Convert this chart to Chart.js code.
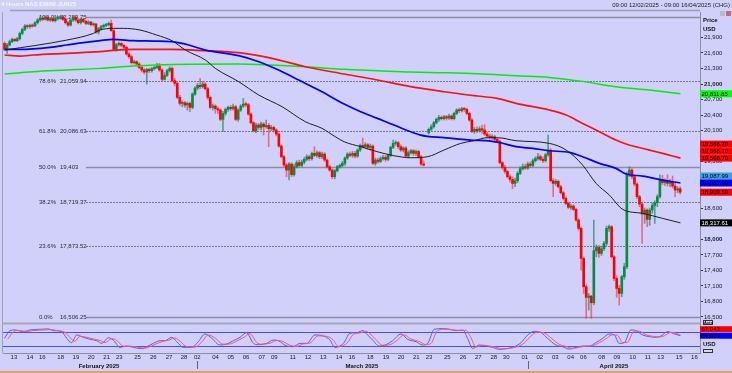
<!DOCTYPE html>
<html><head><meta charset="utf-8">
<script src="https://cdn.jsdelivr.net/npm/chart.js@4.4.1/dist/chart.umd.min.js"></script>
<style>html,body{margin:0;padding:0;background:#d0d0fa;overflow:hidden}</style>
</head><body>
<canvas id="c" width="732" height="373" style="width:732px;height:373px;display:block"></canvas>
<script>
// ---------- DATA (4-hour bars, index 0..266; 166 = weekend gap) ----------
const opens = [21785,21669,21753,21817,21862,21837,21875,21978,22055,22120,
22107,22133,22120,22184,22236,22274,22249,22287,22236,22262,
22223,22262,22274,22300,22249,22184,22139,22236,22287,22236,
22184,22249,22210,22171,22197,22146,22159,22004,22068,22107,
22133,22146,22171,22030,21669,21759,21785,21746,21708,21579,
21527,21412,21431,21386,21321,21270,21231,21283,21257,21296,
21321,21347,21270,21090,21167,21257,21302,21064,21012,20742,
20626,20639,20594,20626,20549,20806,20922,20974,20948,20999,
20909,20742,20549,20574,20523,20497,20317,20433,20510,20549,
20523,20561,20317,20497,20574,20613,20600,20420,20252,20098,
20207,20162,20227,20175,20201,20136,20162,20111,20033,19801,
19595,19434,19338,19454,19248,19402,19480,19428,19492,19544,
19595,19557,19660,19621,19673,19595,19647,19531,19402,19338,
19209,19325,19402,19428,19467,19570,19647,19621,19660,19608,
19724,19814,19789,19827,19776,19801,19467,19531,19505,19557,
19583,19544,19621,19776,19853,19866,19789,19724,19763,19608,
19673,19711,19660,19698,19595,19454,null,20059,20124,20175,
20252,20317,20355,20330,20368,20342,20381,20330,20433,20497,
20484,20523,20510,20433,20304,20085,20124,20098,20136,20111,
20033,19995,19969,19982,19930,19892,19480,19389,19312,19209,
19157,19080,19132,19273,19364,19402,19377,19454,19428,19518,
19557,19595,19544,19518,19634,19724,19132,19080,19119,19016,
18900,18791,18694,18617,18642,18578,18372,18211,17631,17084,
16878,16904,16775,17779,17844,17728,17818,17921,18211,18243,
17663,17245,17052,16955,17277,17470,19261,19338,19209,19067,
18823,18681,18488,18565,18385,18565,18655,18707,18823,19157,
19093,19119,19080,19106,19029,18951,18977];
const highs = [21817,21785,21849,21888,21882,21901,22004,22081,22146,22146,
22159,22159,22204,22262,22300,22313,22313,22313,22287,22287,
22287,22300,22320,22320,22274,22210,22249,22313,22313,22262,
22274,22274,22236,22223,22210,22184,22171,22094,22133,22159,
22171,22197,22236,22055,21785,21811,21798,21772,21734,21605,
21553,21463,21450,21412,21347,21296,21302,21308,21321,21347,
21399,21399,21296,21218,21283,21334,21334,21109,21038,20780,
20677,20664,20652,20652,20832,20948,21012,21109,21051,21025,
20935,20768,20613,20600,20561,20523,20471,20536,20574,20587,
20613,20587,20523,20600,20722,20652,20626,20445,20278,20239,
20239,20265,20252,20304,20239,20201,20188,20136,20059,19827,
19621,19467,19480,19480,19454,19518,19531,19531,19583,19634,
19621,19686,19789,19711,19698,19686,19673,19557,19428,19364,
19351,19428,19454,19505,19595,19673,19686,19698,19698,19750,
19840,19956,19866,19853,19840,19827,19570,19570,19595,19621,
19621,19647,19801,19917,19905,19892,19827,19789,19789,19711,
19737,19737,19724,19724,19621,19518,null,20149,20214,20278,
20342,20394,20381,20394,20394,20420,20407,20458,20523,20536,
20549,20549,20536,20458,20330,20162,20175,20175,20201,20214,
20072,20033,20020,20008,19956,19917,19505,19428,19338,19248,
19209,19183,19312,19402,19454,19454,19492,19492,19557,19595,
19660,19634,19595,19660,20014,19750,19170,19157,19145,19042,
18926,18823,18720,18681,18668,18604,18398,18243,17663,17122,
16955,16916,18372,17895,17882,17869,17960,18256,18275,18269,
17689,17290,17110,17303,17535,19299,19402,19364,19235,19093,
18848,18707,18604,18591,18604,18707,18745,18861,19248,19235,
19170,19248,19157,19222,19080,19016,19016];
const lows = [21643,21592,21734,21798,21817,21817,21849,21952,22030,22075,
22081,22094,22107,22159,22210,22223,22236,22216,22210,22197,
22197,22236,22249,22223,22159,22107,22120,22210,22204,22159,
22159,22184,22146,22146,22120,22120,21978,21965,22043,22081,
22107,22120,22017,21643,21630,21734,21721,21682,21553,21495,
21386,21386,21360,21296,21231,21193,20999,21218,21231,21270,
21296,21244,21064,21077,21141,21231,21038,20961,20716,20587,
20561,20549,20497,20465,20523,20780,20883,20909,20922,20883,
20703,20523,20497,20433,20433,20291,20078,20394,20471,20484,
20497,20291,20278,20471,20549,20561,20394,20227,20072,20059,
20124,20111,20014,20149,19789,20098,20072,19995,19776,19570,
19402,19209,19145,19209,19222,19377,19402,19402,19454,19518,
19518,19531,19595,19583,19557,19557,19505,19377,19312,19170,
19170,19299,19377,19402,19428,19544,19595,19583,19570,19583,
19698,19763,19763,19737,19724,19441,19428,19467,19480,19531,
19505,19518,19595,19750,19814,19750,19698,19686,19583,19570,
19647,19621,19621,19570,19428,19415,null,20033,20098,20149,
20227,20278,20304,20304,20304,20317,20304,20304,20407,20445,
20458,20471,20407,20278,20059,20046,20059,20072,20046,20008,
19956,19930,19930,19905,19866,19454,19351,19273,19183,19106,
18977,19016,19093,19248,19338,19351,19351,19389,19402,19492,
19531,19518,19480,19492,19608,19106,18823,19042,18990,18874,
18758,18668,18591,18578,18552,18346,18179,17406,16955,16472,
16633,16472,16736,17663,17651,17689,17779,17882,18153,17638,
17200,16878,16730,16891,17225,17432,19209,19170,19029,18784,
18630,17921,18308,18243,18269,18501,18308,18630,18797,19054,
19042,19029,19016,18990,18823,18900,18874];
const closes = [21669,21753,21817,21862,21837,21875,21978,22055,22120,22107,
22133,22120,22184,22236,22274,22249,22287,22236,22262,22223,
22262,22274,22300,22249,22184,22139,22236,22287,22236,22184,
22249,22210,22171,22197,22146,22159,22004,22068,22107,22133,
22146,22171,22030,21669,21759,21785,21746,21708,21579,21527,
21412,21431,21386,21321,21270,21231,21283,21257,21296,21321,
21347,21270,21090,21167,21257,21302,21064,21012,20742,20626,
20639,20594,20626,20549,20806,20922,20974,20948,20999,20909,
20742,20549,20574,20523,20497,20317,20433,20510,20549,20523,
20561,20317,20497,20574,20613,20600,20420,20252,20098,20207,
20162,20227,20175,20201,20136,20162,20111,20033,19801,19595,
19434,19338,19454,19248,19402,19480,19428,19492,19544,19595,
19557,19660,19621,19673,19595,19647,19531,19402,19338,19209,
19325,19402,19428,19467,19570,19647,19621,19660,19608,19724,
19814,19789,19827,19776,19801,19467,19531,19505,19557,19583,
19544,19621,19776,19853,19866,19789,19724,19763,19608,19673,
19711,19660,19698,19595,19454,19434,null,20124,20175,20252,
20317,20355,20330,20368,20342,20381,20330,20433,20497,20484,
20523,20510,20433,20304,20085,20124,20098,20136,20111,20033,
19995,19969,19982,19930,19892,19480,19389,19312,19209,19157,
19080,19132,19273,19364,19402,19377,19454,19428,19518,19557,
19595,19544,19518,19634,19724,19132,19080,19119,19016,18900,
18791,18694,18617,18642,18578,18372,18211,17631,17084,16878,
16904,16775,17779,17844,17728,17818,17921,18211,18243,17663,
17245,17052,16955,17277,17470,19261,19338,19209,19067,18823,
18681,18488,18565,18385,18565,18655,18707,18823,19157,19093,
19119,19080,19106,19029,18951,18977,18909.5];

// moving averages: [bar index, value]
const maBlack = [[0.2,21656],[24.5,21849],[35,21978],[37.6,22043],[42.8,22075],[46.8,22075],[53.3,22043],[59.9,21946],[65.9,21837],[71.2,21656],[79.1,21463],[83,21302],[92.2,21044],[100.1,20787],[109.3,20561],[118.4,20272],[125,20143],[130.2,19982],[133.7,19885],[140.2,19789],[146.8,19692],[153.3,19615],[159.9,19576],[166.5,19595],[173,19724],[179.6,19853],[184.8,19905],[190.1,19963],[194,19963],[201.4,19905],[214.5,19853],[221.1,19724],[227.6,19434],[232.9,19080],[238.1,18855],[243.4,18578],[251.2,18501],[259.1,18404],[266.1,18317.61]];
const maBlue = [[0,21669],[6.1,21669],[17.9,21708],[24.5,21753],[31,21798],[37.6,21837],[42.8,21862],[50.7,21837],[58.6,21830],[65.9,21817],[72.5,21753],[79.1,21656],[92.2,21547],[100.1,21431],[107.9,21270],[115.8,21077],[123.7,20883],[133.7,20613],[140.2,20465],[146.8,20336],[153.3,20207],[163.8,20014],[173,19963],[183.5,19917],[191.4,19898],[195.3,19866],[201.4,19789],[208,19756],[214.5,19711],[222.4,19679],[227.6,19595],[234.2,19467],[240.7,19370],[244.7,19261],[251.2,19222],[259.1,19145],[266.1,19087.99]];
const maRed = [[0,21560],[6.1,21540],[11.3,21560],[24.5,21592],[37.6,21624],[44.1,21656],[50.7,21669],[65.9,21669],[79.1,21643],[92.2,21605],[105.3,21495],[118.4,21334],[133.7,21193],[146.8,21077],[159.9,20948],[173,20851],[186.1,20768],[194,20722],[201.4,20626],[214.5,20497],[221.1,20400],[227.6,20239],[234.2,20078],[240.7,19917],[244.7,19840],[253.9,19724],[259.1,19660],[266.1,19568.7]];
const maGreen = [[0,21193],[11.3,21238],[24.5,21270],[37.6,21302],[50.7,21347],[65.9,21379],[92.2,21386],[105.3,21366],[118.4,21334],[133.7,21283],[146.8,21257],[159.9,21231],[173,21218],[186.1,21199],[201.4,21160],[214.5,21128],[227.6,21051],[240.7,20948],[253.9,20883],[266.1,20811.85]];

// stochastic oscillator: [bar index, value]
const stochK = [[0,53],[2.2,87.5],[4.1,90.5],[7.4,83],[10,90.5],[14,93.5],[17.3,95],[19.2,87.5],[22.5,83],[24.5,53],[26.4,33.5],[28.4,68],[31,57.5],[33.7,48.5],[36.3,42.5],[38.3,30.5],[40.9,56],[42.8,45.5],[45.5,12.5],[48.1,18.5],[50.7,12.5],[54,6.5],[56,15.5],[58.6,30.5],[61.2,42.5],[63.2,42.5],[65.8,57.5],[67.8,38],[70.4,12.5],[73.7,12.5],[76.3,38],[78.9,72.5],[81.6,53],[84.8,23],[87.5,27.5],[90.1,42.5],[92.7,57.5],[95.3,78.5],[98,30.5],[99.9,24.5],[103.2,30.5],[105.8,45.5],[107.8,42.5],[111.1,18.5],[113.7,15.5],[116.3,30.5],[119,30.5],[122.2,68],[125.5,63.5],[128.1,45.5],[130.1,12.5],[133.4,30.5],[136,75.5],[138.6,78.5],[141.3,88],[142.3,75.5],[144.9,45.5],[147.5,18.5],[150.2,24.5],[152.8,42.5],[156.1,72.5],[158.7,48.5],[162,38],[164.6,23],[166.6,30.5],[169.2,93.5],[172.5,96.5],[175.1,93.5],[177.7,87.5],[180.4,90.5],[182.3,53],[184.3,8],[186.9,23],[189.5,18.5],[192.2,12.5],[194.8,3.5],[197.4,6.5],[200.7,15.5],[203.3,33.5],[206,68],[208.6,84.5],[211.2,78.5],[213.8,53],[217.1,23],[219.7,15.5],[222.4,5],[225,12.5],[227.6,18.5],[230.2,18.5],[232.8,33.5],[235.5,53],[238.1,72.5],[240.1,68],[242,30.5],[244,33.5],[246.6,90.5],[248.6,87.5],[251.2,68],[253.9,60.5],[256.5,57.5],[258.4,63.5],[261.1,83],[263.7,72.5],[266.1,64.813]];
const stochD = [[1.3,50],[3.5,82],[5.4,88],[8.7,84],[11.3,88],[15.3,91],[18.6,92],[20.5,88],[23.8,80],[25.8,56],[27.7,40],[29.7,62],[32.3,58],[35,50],[37.6,44],[39.6,34],[42.2,52],[44.1,44],[46.8,18],[49.4,18],[52,14],[55.3,9],[57.3,16],[59.9,29],[62.5,40],[64.5,44],[67.1,54],[69.1,40],[71.7,16],[75,14],[77.6,36],[80.2,68],[82.9,54],[86.1,27],[88.8,28],[91.4,41],[94,56],[96.6,74],[99.3,34],[101.2,27],[104.5,31],[107.1,43],[109.1,41],[112.4,22],[115,17],[117.6,28],[120.3,32],[123.5,64],[126.8,62],[129.4,46],[131.4,17],[134.7,30],[137.3,70],[139.9,77],[142.6,85],[143.6,76],[146.2,48],[148.8,22],[151.5,24],[154.1,40],[157.4,68],[160,50],[163.3,39],[165.9,25],[167.9,30],[170.5,88],[173.8,94],[176.4,92],[179,88],[181.7,89],[183.6,56],[185.6,14],[188.2,22],[190.8,19],[193.5,13],[196.1,6],[198.7,8],[202,16],[204.6,32],[207.3,64],[209.9,81],[212.5,77],[215.1,55],[218.4,26],[221,17],[223.7,8],[226.3,13],[228.9,18],[231.5,20],[234.1,33],[236.8,51],[239.4,69],[241.4,66],[243.3,34],[245.3,36],[247.9,86],[249.9,85],[252.5,69],[255.2,62],[257.8,59],[259.7,64],[262.4,80],[265,74],[266.1,67.043]];
const stochLevels = [80, 20];

// Fibonacci retracement levels
const fibPct = ['100.0%','78.6%','61.8%','50.0%','38.2%','23.6%','0.0%'];
const fibVal = [22299.75,21059.94,20086.63,19403,18719.37,17873.52,16506.25];
const fibTxt = ['22,299.75','21,059.94','20,086.63','19,403','18,719.37','17,873.52','16,506.25'];

// axis ticks
const priceTicks = [16500,16800,17100,17400,17700,18000,18300,18600,18900,19200,19500,19800,20100,20400,20700,21000,21300,21600,21900];
const dayTickIdx = [3.7,10.0,14.9,22.1,28.1,34.1,40.2,45.2,52.4,58.6,64.8,70.7,75.9,83.1,89.1,95.1,101.3,106.2,113.5,119.5,125.5,131.7,136.7,144.0,150.2,156.1,162.1,167.1,174.3,180.5,186.5,192.6,197.5,204.8,210.7,216.8,222.9,227.9,235.1,241.1,247.3,253.3,258.3,265.6,271.6];
const dayTickLabels = ['13','14','16','18','19','20','21','23','25','26','27','28','02','04','05','06','07','09','11','12','13','14','16','18','19','20','21','23','25','26','27','28','30','01','02','03','04','06','08','09','10','11','13','15','16'];
const monthLabels = ['February 2025','March 2025','April 2025'];
const monthIdx = [37.2,140.7,239.9];
const monthStartIdx = [75.8,206.0];

// last-value tags
const tagValues = [20811.85,19568.70,19568.70,19568.70,19087.99,19087.99,18909.50,18317.61];
const tagTexts = ['20,811.85','19,568.70','19,568.70','19,568.70','19,087.99','19,087.99','18,909.50','18,317.61'];
const stochTagValues = [67.043, 64.813];

// ---------- RENDERING ----------
const FONT = "'Liberation Sans', Arial, sans-serif";
const BG = '#d0d0fa';
const UP = '#0b8a3e', DOWN = '#ff0000';

const wickData = [], bodyData = [];
for (let i = 0; i < closes.length; i++) {
  if (closes[i] == null) continue;
  wickData.push({x: i, y: [lows[i], highs[i]]});
  bodyData.push({x: i, y: [opens[i], closes[i]]});
}
const upAt = ctx => { const r = ctx.raw; return r && closes[r.x] >= opens[r.x]; };
const pts = a => a.map(p => ({x: p[0], y: p[1]}));

const tagStyle = [
  {bg:'#00ff00', fg:'#000', dy:0},
  {bg:'#ff0000', fg:'#000', dy:-14},
  {bg:'#ff0000', fg:'#000', dy:-7},
  {bg:'#ff0000', fg:'#000', dy:0},
  {bg:'#3f9fe0', fg:'#000', dy:-7},
  {bg:'#0000ff', fg:'#000', dy:0},
  {bg:'#ff0000', fg:'#000', dy:0},
  {bg:'#000000', fg:'#fff', dy:0}
];

function text(c, s, x, y, size, color, weight, align) {
  c.font = (weight || 'normal') + ' ' + size + 'px ' + FONT;
  c.fillStyle = color; c.textAlign = align || 'left'; c.textBaseline = 'middle';
  c.fillText(s, x, y);
}

const decor = {
  id: 'decor',
  beforeDraw(chart) {
    const c = chart.ctx; c.save(); c.fillStyle = BG; c.fillRect(0, 0, chart.width, chart.height); c.restore();
  },
  beforeDatasetsDraw(chart) {
    const c = chart.ctx, ca = chart.chartArea, y = chart.scales.y, s = chart.scales.ys;
    c.save();
    c.strokeStyle = '#9c9cb4'; c.lineWidth = 1.5;
    c.beginPath(); c.moveTo(10, 10.5); c.lineTo(ca.right, 10.5); c.stroke();
    c.lineWidth = 1; c.strokeStyle = '#a0a0b8';
    c.beginPath(); c.moveTo(2.5, ca.top); c.lineTo(2.5, ca.bottom); c.stroke();
    c.fillStyle = '#a6a6be'; c.fillRect(ca.left, 322.5, ca.right - ca.left, 2);
    for (let i = 0; i < fibVal.length; i++) {
      const py = Math.round(y.getPixelForValue(fibVal[i])) + 0.5;
      const solid = (i === 0 || i === 3 || i === 6);
      c.strokeStyle = solid ? '#8c8ca4' : '#76768c';
      c.lineWidth = solid ? 1.5 : 1;
      c.setLineDash(solid ? [] : [2, 1]);
      c.beginPath(); c.moveTo(86, py); c.lineTo(ca.right, py); c.stroke();
      text(c, fibPct[i], 39, py, 6, '#2a2a3a');
      text(c, fibTxt[i], 60, py, 6, '#2a2a3a');
    }
    c.setLineDash([]);
    c.strokeStyle = '#4a4aff'; c.lineWidth = 1;
    stochLevels.forEach(v => {
      const py = Math.round(s.getPixelForValue(v)) + 0.5;
      c.beginPath(); c.moveTo(ca.left, py); c.lineTo(ca.right, py); c.stroke();
    });
    c.restore();
  },
  afterDraw(chart) {
    const c = chart.ctx, ca = chart.chartArea, y = chart.scales.y, x = chart.scales.x, s = chart.scales.ys;
    c.save();
    for (let i = 0; i < tagValues.length; i++) {
      const st = tagStyle[i];
      const py = y.getPixelForValue(tagValues[i]) + st.dy;
      c.fillStyle = st.bg; c.fillRect(ca.right, py - 3.5, 32, 7);
      text(c, tagTexts[i], ca.right + 1.5, py + 0.3, 6, st.fg);
    }
    const sty = [{bg:'#ff0000', fg:'#000', dy:-6}, {bg:'#0000ff', fg:'#000', dy:0}];
    stochTagValues.forEach((v, i) => {
      const py = s.getPixelForValue(v) + sty[i].dy;
      c.fillStyle = sty[i].bg; c.fillRect(ca.right, py - 3, 32, 6);
      text(c, v.toFixed(3), ca.right + 1.5, py + 0.3, 6, sty[i].fg);
    });
    c.strokeStyle = '#333'; c.lineWidth = 1;
    c.fillStyle = '#d8d8e8'; c.fillRect(703, 320, 10, 5); c.strokeRect(703.5, 320.5, 9, 4);
    text(c, 'Auto', 704, 322.8, 4, '#111', 'bold');
    text(c, 'USD', 703, 344.5, 6, '#111', 'bold');
    c.fillStyle = '#d8d8e8'; c.fillRect(703, 349, 10, 4); c.strokeRect(703.5, 349.5, 9, 3);
    text(c, 'Price', 703, 20.5, 6, '#111', 'bold');
    text(c, 'USD', 703, 29, 6, '#111', 'bold');
    c.fillStyle = '#b8b8c8'; c.fillRect(720, 11, 5, 5);
    c.fillStyle = '#c86a6a'; c.fillRect(726, 11, 5, 5);
    text(c, '4 Hours NAS EMINI JUN25', 1, 4.5, 6, '#f4f4ff', 'bold');
    text(c, '09:00 12/02/2025 - 09:00 16/04/2025 (CHG)', 730, 5.5, 6, '#222', 'normal', 'right');
    for (let i = 0; i < monthLabels.length; i++) {
      text(c, monthLabels[i], x.getPixelForValue(monthIdx[i]), 366, 6, '#111', 'bold', 'center');
    }
    c.strokeStyle = '#666'; c.lineWidth = 1;
    monthStartIdx.forEach(v => {
      const px = Math.round(x.getPixelForValue(v)) + 0.5;
      c.beginPath(); c.moveTo(px, 361); c.lineTo(px, 369); c.stroke();
    });
    c.fillStyle = '#e0a060'; c.fillRect(0, 371, 732, 2);
    c.restore();
  }
};

new Chart(document.getElementById('c'), {
  type: 'bar',
  data: {
    datasets: [
      {type:'line', data: pts(maBlack), borderColor:'#1e1e1e', borderWidth:1, pointRadius:0, cubicInterpolationMode:'monotone', yAxisID:'y', order:0},
      {type:'line', data: pts(maBlue), borderColor:'#0000ff', borderWidth:1.7, pointRadius:0, cubicInterpolationMode:'monotone', yAxisID:'y', order:0},
      {type:'line', data: pts(maRed), borderColor:'#ff1010', borderWidth:1.7, pointRadius:0, cubicInterpolationMode:'monotone', yAxisID:'y', order:0},
      {type:'line', data: pts(maGreen), borderColor:'#00ee00', borderWidth:1.5, pointRadius:0, cubicInterpolationMode:'monotone', yAxisID:'y', order:0},
      {type:'line', data: pts(stochD), borderColor:'#ff5a5a', borderWidth:1, pointRadius:0, cubicInterpolationMode:'monotone', yAxisID:'ys', order:0},
      {type:'line', data: pts(stochK), borderColor:'#5a5aff', borderWidth:1, pointRadius:0, cubicInterpolationMode:'monotone', yAxisID:'ys', order:0},
      {type:'bar', data: bodyData, grouped:false, barThickness:2, minBarLength:1, borderWidth:0, yAxisID:'y', order:1,
        backgroundColor: ctx => upAt(ctx) ? UP : DOWN},
      {type:'bar', data: wickData, grouped:false, barThickness:1, borderWidth:0, yAxisID:'y', order:2,
        backgroundColor: ctx => upAt(ctx) ? 'rgba(20,130,90,0.65)' : 'rgba(255,40,40,0.6)'}
    ]
  },
  options: {
    responsive: false, animation: false, devicePixelRatio: 1, events: [],
    layout: {padding: {left: 3, top: 12, right: 0, bottom: 0}},
    plugins: {legend: {display: false}, tooltip: {enabled: false}},
    scales: {
      x: {type:'linear', min:-0.6, max:273.8, offset:false,
          grid:{display:false, drawTicks:false, tickLength:0}, border:{display:true, color:'#8c8ca4'},
          afterBuildTicks: sc => { sc.ticks = dayTickIdx.map(v => ({value: v})); },
          afterFit: sc => { sc.height = 20; },
          ticks:{autoSkip:false, maxRotation:0, minRotation:0, padding:1, color:'#1a1a2a',
                 font:{family:FONT, size:6}, callback:(v, i) => dayTickLabels[i]}},
      y: {type:'linear', position:'right', min:15804, max:22391,
          grid:{display:true, drawOnChartArea:false, drawTicks:true, tickLength:3, tickColor:'#333'},
          border:{display:true, color:'#8c8ca4'},
          afterBuildTicks: sc => { sc.ticks = priceTicks.map(v => ({value: v})); },
          afterFit: sc => { sc.width = 32; },
          ticks:{padding:1, color:'#1a1a2a',
                 font: ctx => ({family:FONT, size:6, weight: (ctx.tick && (ctx.tick.value === 21000 || ctx.tick.value === 18000)) ? 'bold' : 'normal'}),
                 callback: v => v.toLocaleString('en-US')}},
      ys: {type:'linear', position:'right', display:false, min:-12.7, max:1514.4}
    }
  },
  plugins: [decor]
});
</script>
</body></html>
